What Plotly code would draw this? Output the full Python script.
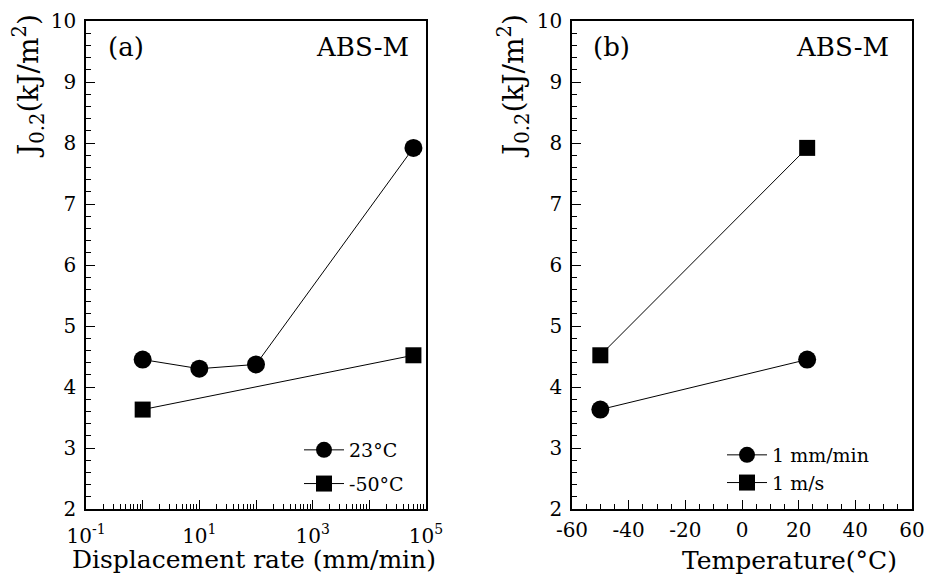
import plotly.graph_objects as go

# Panel (a): J0.2 vs displacement rate
rate_23 = [1, 10, 100, 60000]
j_23 = [4.45, 4.30, 4.37, 7.92]
rate_m50 = [1, 60000]
j_m50 = [3.63, 4.52]

# Panel (b): J0.2 vs temperature
temp = [-50, 23]
j_slow = [3.63, 4.45]
j_fast = [4.52, 7.92]

log_ticks = [0.1, 1, 10, 100, 1000, 10000, 100000]
log_ticktext = ["10<sup>-1</sup>", "", "10<sup>1</sup>", "", "10<sup>3</sup>", "", "10<sup>5</sup>"]
log_minor = [m * 10.0 ** e for e in range(-1, 5) for m in range(2, 10)]
temp_ticks = [-60, -40, -20, 0, 20, 40, 60]
temp_ticktext = ["-60", "-40", "-20", "0", "20", "40", "60"]

FONT = "DejaVu Serif"
W, H = 928, 574

fig = go.Figure()
fig.add_trace(go.Scatter(x=rate_23, y=j_23, mode="lines+markers", name="23°C",
                         line=dict(color="black", width=1), legendgroup="a1",
                         marker=dict(symbol="circle", size=18, color="black"),
                         xaxis="x", yaxis="y", legend="legend"))
fig.add_trace(go.Scatter(x=rate_m50, y=j_m50, mode="lines+markers", name="-50°C",
                         line=dict(color="black", width=1), legendgroup="a2",
                         marker=dict(symbol="square", size=16, color="black"),
                         xaxis="x", yaxis="y", legend="legend"))
fig.add_trace(go.Scatter(x=temp, y=j_slow, mode="lines+markers", name="1 mm/min",
                         line=dict(color="black", width=1), legendgroup="b1",
                         marker=dict(symbol="circle", size=18, color="black"),
                         xaxis="x2", yaxis="y2", legend="legend2"))
fig.add_trace(go.Scatter(x=temp, y=j_fast, mode="lines+markers", name="1 m/s",
                         line=dict(color="black", width=1), legendgroup="b2",
                         marker=dict(symbol="square", size=16, color="black"),
                         xaxis="x2", yaxis="y2", legend="legend2"))

ydom = [1 - 509 / H, 1 - 21 / H]
axis_common = dict(showline=True, linecolor="black", linewidth=1.6, mirror=True,
                   ticks="inside", tickcolor="black", tickwidth=1.2, ticklen=9,
                   showgrid=False, zeroline=False, automargin=False,
                   tickfont=dict(family=FONT, size=20, color="black"))
yaxis_common = dict(axis_common, range=[2, 10], dtick=1, ticklabelstandoff=4,
                    minor=dict(ticks="inside", dtick=0.2, ticklen=5, tickcolor="black"))

fig.update_layout(
    template="none",
    width=W, height=H,
    margin=dict(l=0, r=0, t=0, b=0, autoexpand=False),
    paper_bgcolor="white", plot_bgcolor="white",
    font=dict(family=FONT, color="black"),
    xaxis=dict(axis_common, type="log", range=[-1, 5], domain=[86 / W, 426 / W],
               tickmode="array", tickvals=log_ticks, ticktext=log_ticktext, anchor="y",
               ticklabelstandoff=8,
               minor=dict(ticks="inside", tickmode="array", tickvals=log_minor, ticklen=5, tickcolor="black")),
    yaxis=dict(yaxis_common, domain=ydom, anchor="x"),
    xaxis2=dict(axis_common, range=[-60, 60], tickmode="array", tickvals=temp_ticks,
                ticktext=temp_ticktext, domain=[572 / W, 912 / W], anchor="y2",
                ticklabelstandoff=2,
                minor=dict(ticks="inside", dtick=5, ticklen=5, tickcolor="black")),
    yaxis2=dict(yaxis_common, domain=ydom, anchor="x2"),
    legend=dict(x=299 / W, y=1 - 431 / H, xanchor="left", yanchor="top",
                bgcolor="rgba(0,0,0,0)", font=dict(family=FONT, size=19, color="black"),
                tracegroupgap=6, itemwidth=40),
    legend2=dict(x=722 / W, y=1 - 436 / H, xanchor="left", yanchor="top",
                 bgcolor="rgba(0,0,0,0)", font=dict(family=FONT, size=19, color="black"),
                 tracegroupgap=0, itemwidth=40),
    showlegend=True,
)

ann_font = dict(family=FONT, size=26, color="black")
title_font = dict(family=FONT, size=25, color="black")
ytitle_font = dict(family=FONT, size=28, color="black")
annotations = [
    dict(text="(a)", x=106 / W, y=1 - 47 / H, xanchor="left", yanchor="middle", font=ann_font),
    dict(text="ABS-M", x=411 / W, y=1 - 47 / H, xanchor="right", yanchor="middle", font=ann_font),
    dict(text="(b)", x=591 / W, y=1 - 47 / H, xanchor="left", yanchor="middle", font=ann_font),
    dict(text="ABS-M", x=891 / W, y=1 - 47 / H, xanchor="right", yanchor="middle", font=ann_font),
    dict(text="Displacement rate (mm/min)", x=254 / W, y=1 - 559 / H, xanchor="center",
         yanchor="middle", font=title_font),
    dict(text="Temperature(°C)", x=789 / W, y=1 - 560 / H, xanchor="center",
         yanchor="middle", font=title_font),
    dict(text="J<sub>0.2</sub>(kJ/m<sup>2</sup>)", x=28 / W, y=1 - 86 / H, textangle=-90,
         xanchor="center", yanchor="middle", font=ytitle_font),
    dict(text="J<sub>0.2</sub>(kJ/m<sup>2</sup>)", x=513 / W, y=1 - 86 / H, textangle=-90,
         xanchor="center", yanchor="middle", font=ytitle_font),
]
for a in annotations:
    fig.add_annotation(xref="paper", yref="paper", showarrow=False, **a)

fig.write_html("out.html")
